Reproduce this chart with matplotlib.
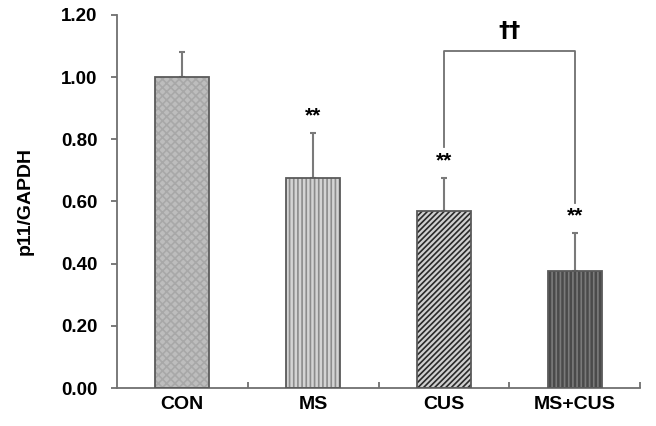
import matplotlib.pyplot as plt
import numpy as np

plt.rcParams['font.family'] = ['Liberation Sans', 'DejaVu Sans']
plt.rcParams['font.weight'] = 'bold'
plt.rcParams['hatch.linewidth'] = 1.2

# data
groups = ['CON', 'MS', 'CUS', 'MS+CUS']
means = [1.00, 0.675, 0.57, 0.375]
sems = [0.08, 0.145, 0.105, 0.125]
marks = ['', '**', '**', '**']

face = ['#bdbdbd', '#d4d4d4', '#d0d0d0', '#4a4a4a']
hatch_col = ['#a8a8a8', '#8c8c8c', '#2a2a2a', '#7a7a7a']
hatches = ['xxxx', '||||', '//////', '||||']

fig = plt.figure(figsize=(6.56, 4.26), dpi=100)
ax = fig.add_axes([0.178, 0.089, 0.798, 0.876])

x = np.arange(len(groups))
w = 0.41

# hatched fill, then outline on top
ax.bar(x, means, w, color=face, edgecolor=hatch_col, hatch=hatches, linewidth=0, zorder=2)
ax.bar(x, means, w, fill=False, edgecolor='#5a5a5a', linewidth=1.3, zorder=3)
ax.errorbar(x, means, yerr=[np.zeros(len(sems)), sems], fmt='none',
            ecolor='#7a7a7a', elinewidth=1.5, capsize=2.5, capthick=1.5, zorder=1)

for i in range(len(groups)):
    if marks[i]:
        ax.text(x[i], means[i] + sems[i] + 0.055, marks[i], ha='center', va='center',
                fontsize=15, fontweight='bold')

# bracket CUS vs MS+CUS
ax.plot([2, 2, 3, 3], [0.775, 1.084, 1.084, 0.595], color='#707070', lw=1.3, clip_on=False)
ax.text(2.5, 1.149, '\u2020\u2020', ha='center', va='center', fontsize=16, fontweight='bold',
        family=['DejaVu Sans'])

ax.set_xlim(-0.5, 3.5)
ax.set_ylim(0, 1.2)
ax.set_yticks(np.arange(0, 1.21, 0.2))
ax.set_yticklabels(['%.2f' % v for v in np.arange(0, 1.21, 0.2)], fontsize=13.5, fontweight='bold')
ax.set_xticks([0.5, 1.5, 2.5, 3.5])
ax.set_xticklabels([])
ax.tick_params(axis='x', direction='in', length=4, color='#707070', width=1.3)
ax.tick_params(axis='y', direction='out', length=4, color='#707070', width=1.3, pad=10)
for i, g in enumerate(groups):
    ax.text(i, -0.052, g, ha='center', va='center', fontsize=14, fontweight='bold')

ax.set_ylabel('p11/GAPDH', fontsize=14, fontweight='bold')
ax.yaxis.set_label_coords(-0.158, 0.5)
for s in ['top', 'right']:
    ax.spines[s].set_visible(False)
for s in ['left', 'bottom']:
    ax.spines[s].set_color('#707070')
    ax.spines[s].set_linewidth(1.3)

fig.savefig('out.png', dpi=100)
